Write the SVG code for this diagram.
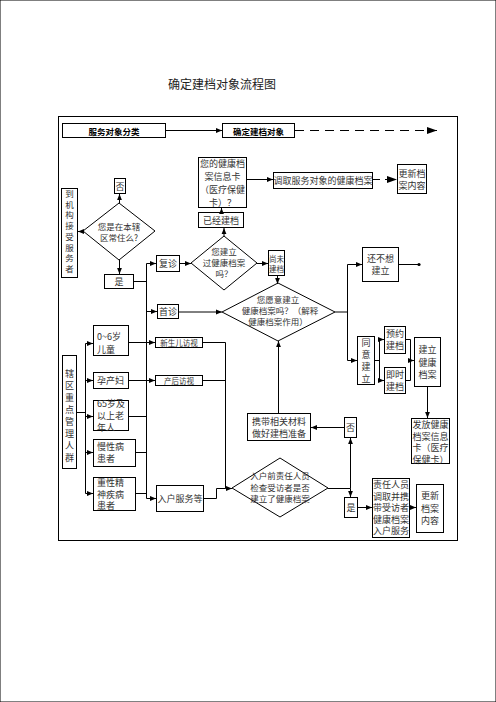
<svg xmlns="http://www.w3.org/2000/svg" width="496" height="702" viewBox="0 0 496 702">
<defs>
<marker id="a" viewBox="0 0 10 10" refX="10" refY="5" markerWidth="6" markerHeight="6" orient="auto" markerUnits="userSpaceOnUse"><path d="M0,1 L10,5 L0,9 z" fill="#000"/></marker>
<marker id="b" viewBox="0 0 10 10" refX="10" refY="5" markerWidth="12" markerHeight="10" orient="auto" markerUnits="userSpaceOnUse"><path d="M0,1.5 L10,5 L0,8.5 z" fill="#000"/></marker>
</defs>
<style>
rect,polygon{fill:#fff;stroke:#000;stroke-width:1}
.frame{fill:none}
text{font-family:"Noto Sans CJK SC","Noto Sans CJK JP",sans-serif;font-size:9px;fill:#333;text-anchor:middle;dominant-baseline:central}
.l{text-anchor:start}
.h{font-weight:bold;fill:#000;font-size:8.5px}
.s{font-size:7.5px}
.m{font-size:8.5px}
.c line,.c polyline{stroke:#000;stroke-width:1;fill:none}
.c .ar{marker-end:url(#a)}
</style>
<rect width="496" height="702" fill="#fff" stroke="none"/>
<text x="222" y="83" style="font-size:12px;fill:#222">确定建档对象流程图</text>
<rect class="frame" x="58.5" y="116.5" width="399" height="424"/>

<g id="hdr1"><rect x="62.5" y="123.5" width="103" height="14"/><text class="h" x="114" y="130.5">服务对象分类</text></g>
<g id="hdr2"><rect x="222.5" y="123.5" width="72" height="14"/><text class="h" x="258.5" y="130.5">确定建档对象</text></g>

<g id="card"><rect x="198.5" y="157.5" width="48" height="50"/>
<text x="222.5" y="163"><tspan x="222.5">您的健康档</tspan><tspan x="222.5" dy="13">案信息卡</tspan><tspan x="222.5" dy="13">（医疗保健</tspan><tspan x="222.5" dy="13">卡）？</tspan></text></g>
<g id="fetch"><rect x="273.5" y="172.5" width="99" height="16"/><text x="323" y="180.5">调取服务对象的健康档案</text></g>
<g id="update1"><rect x="397.5" y="164.5" width="29" height="29"/><text x="412" y="173"><tspan x="412">更新档</tspan><tspan x="412" dy="12">案内容</tspan></text></g>
<g id="built"><rect x="198.5" y="212.5" width="45" height="15"/><text x="221" y="220">已经建档</text></g>
<g id="d1"><polygon points="224,236 257,263 224,290 191,263"/><text class="m" x="224" y="251"><tspan x="224">您建立</tspan><tspan x="224" dy="11">过健康档案</tspan><tspan x="224" dy="11">吗？</tspan></text></g>
<g id="fuzhen"><rect x="156.5" y="255.5" width="23" height="16"/><text x="168" y="263.5">复诊</text></g>
<g id="weijian"><rect x="268.5" y="250.5" width="16" height="25"/><text class="s" x="276.5" y="257.5"><tspan x="276.5">尚未</tspan><tspan x="276.5" dy="10.5">建档</tspan></text></g>
<g id="d2"><polygon points="278,283 335,312 278,341 222,312"/><text class="m" x="278" y="299"><tspan x="278">您愿意建立</tspan><tspan x="280" dy="11">健康档案吗？（解释</tspan><tspan x="278" dy="11">健康档案作用）</tspan></text></g>
<g id="shouzhen"><rect x="157.5" y="304.5" width="21" height="14"/><text x="168" y="311.5">首诊</text></g>
<g id="shi1"><rect x="104.5" y="274.5" width="29" height="14"/><text x="119" y="281.5">是</text></g>
<g id="fou1"><rect x="114.5" y="178.5" width="11" height="15"/><text x="120" y="186">否</text></g>
<g id="d0"><polygon points="119,203 155,231 119,260 83,231"/><text class="m" x="119" y="226"><tspan x="119">您是在本辖</tspan><tspan x="119" dy="11">区常住么?</tspan></text></g>
<g id="visitor"><rect x="61.5" y="188.5" width="16" height="89"/>
<text class="m" x="69.5" y="193"><tspan x="69.5">到</tspan><tspan x="69.5" dy="10.7">机</tspan><tspan x="69.5" dy="10.7">构</tspan><tspan x="69.5" dy="10.7">接</tspan><tspan x="69.5" dy="10.7">受</tspan><tspan x="69.5" dy="10.7">服</tspan><tspan x="69.5" dy="10.7">务</tspan><tspan x="69.5" dy="10.7">者</tspan></text></g>
<g id="notyet"><rect x="362.5" y="247.5" width="36" height="34"/><text x="380.5" y="258"><tspan x="380.5">还不想</tspan><tspan x="380.5" dy="12">建立</tspan></text></g>
<g id="agree"><rect x="357.5" y="336.5" width="17" height="48"/><text x="366" y="342"><tspan x="366">同</tspan><tspan x="366" dy="12">意</tspan><tspan x="366" dy="12">建</tspan><tspan x="366" dy="12">立</tspan></text></g>
<g id="yuyue"><rect x="384.5" y="326.5" width="21" height="27"/><text x="395" y="333"><tspan x="395">预约</tspan><tspan x="395" dy="12">建档</tspan></text></g>
<g id="jishi"><rect x="384.5" y="367.5" width="21" height="26"/><text x="395" y="374"><tspan x="395">即时</tspan><tspan x="395" dy="12">建档</tspan></text></g>
<g id="jianli"><rect x="414.5" y="337.5" width="26" height="49"/><text x="427.5" y="349"><tspan x="427.5">建立</tspan><tspan x="427.5" dy="12.5">健康</tspan><tspan x="427.5" dy="12.5">档案</tspan></text></g>
<g id="fafang"><rect x="411.5" y="418.5" width="38" height="45"/><text x="430.5" y="424"><tspan x="430.5">发放健康</tspan><tspan x="430.5" dy="11.7">档案信息</tspan><tspan x="430.5" dy="11.7">卡（医疗</tspan><tspan x="430.5" dy="11.7">保健卡）</tspan></text></g>
<g id="fou2"><rect x="344.5" y="417.5" width="12" height="20"/><text x="350.5" y="427.5">否</text></g>
<g id="xiedai"><rect x="247.5" y="413.5" width="63" height="27"/><text x="279" y="421"><tspan x="279">携带相关材料</tspan><tspan x="279" dy="11.6">做好建档准备</tspan></text></g>
<g id="d3"><polygon points="280,458 328,488 280,517 232,488"/><text class="m" x="280" y="475"><tspan x="280">入户前责任人员</tspan><tspan x="280" dy="11.5">检查受访者是否</tspan><tspan x="280" dy="11.5">建立了健康档案</tspan></text></g>
<g id="shi2"><rect x="344.5" y="497.5" width="13" height="20"/><text x="351" y="507.5">是</text></g>
<g id="zeren"><rect x="372.5" y="478.5" width="37" height="59"/><text x="391" y="484"><tspan x="391">责任人员</tspan><tspan x="391" dy="11.5">调取并携</tspan><tspan x="391" dy="11.5">带受访者</tspan><tspan x="391" dy="11.5">健康档案</tspan><tspan x="391" dy="11.5">入户服务</tspan></text></g>
<g id="update2"><rect x="416.5" y="484.5" width="27" height="48"/><text x="430" y="495"><tspan x="430">更新</tspan><tspan x="430" dy="12.5">档案</tspan><tspan x="430" dy="12.5">内容</tspan></text></g>
<g id="xiaqu"><rect x="62.5" y="355.5" width="14" height="113"/>
<text x="69.5" y="373"><tspan x="69.5">辖</tspan><tspan x="69.5" dy="12">区</tspan><tspan x="69.5" dy="12">重</tspan><tspan x="69.5" dy="12">点</tspan><tspan x="69.5" dy="12">管</tspan><tspan x="69.5" dy="12">理</tspan><tspan x="69.5" dy="12">人</tspan><tspan x="69.5" dy="12">群</tspan></text></g>
<g id="child"><rect x="93.5" y="325.5" width="35" height="30"/><text class="l" x="97" y="336"><tspan x="97">0~6岁</tspan><tspan x="97" dy="13">儿童</tspan></text></g>
<g id="yunchan"><rect x="93.5" y="372.5" width="35" height="16"/><text class="l" x="97" y="380.5">孕产妇</text></g>
<g id="elder"><rect x="93.5" y="400.5" width="35" height="30"/><text class="l" x="97" y="403"><tspan x="97">65岁及</tspan><tspan x="97" dy="12.3">以上老</tspan><tspan x="97" dy="11.7">年人</tspan></text></g>
<g id="chronic"><rect x="93.5" y="439.5" width="42" height="27"/><text class="l" x="97" y="446"><tspan x="97">慢性病</tspan><tspan x="97" dy="12">患者</tspan></text></g>
<g id="mental"><rect x="93.5" y="477.5" width="42" height="33"/><text class="l" x="97" y="482"><tspan x="97">重性精</tspan><tspan x="97" dy="11.5">神疾病</tspan><tspan x="97" dy="11.5">患者</tspan></text></g>
<g id="xinsheng"><rect x="155.5" y="337.5" width="47" height="10"/><text class="s" x="179" y="342.5">新生儿访视</text></g>
<g id="chanhou"><rect x="155.5" y="375.5" width="47" height="10"/><text class="s" x="179" y="380.5">产后访视</text></g>
<g id="ruhu"><rect x="156.5" y="485.5" width="47" height="26"/><text x="180" y="498.5">入户服务等</text></g>

<g id="connectors" class="c">
<line class="ar" x1="166" y1="130.5" x2="222" y2="130.5"/>
<line x1="295" y1="130.5" x2="437" y2="130.5" stroke-dasharray="9 6" style="marker-end:url(#b)"/>
<line class="ar" x1="247" y1="179.5" x2="273" y2="179.5"/>
<line x1="373" y1="179.5" x2="397" y2="179.5" stroke-dasharray="7 5" style="marker-end:url(#b)"/>
<line class="ar" x1="221.5" y1="212" x2="221.5" y2="208"/>
<line class="ar" x1="224" y1="236" x2="224" y2="228"/>
<line class="ar" x1="180" y1="263.5" x2="191" y2="263.5"/>
<line class="ar" x1="257" y1="263.5" x2="268" y2="263.5"/>
<line class="ar" x1="277.5" y1="276" x2="277.5" y2="284"/>
<polyline points="133.5,281.5 146.5,281.5"/>
<line x1="146.5" y1="263.5" x2="146.5" y2="498.5"/>
<line class="ar" x1="146.5" y1="263.5" x2="156" y2="263.5"/>
<line class="ar" x1="146.5" y1="311.5" x2="157" y2="311.5"/>
<line class="ar" x1="179" y1="312" x2="222" y2="312"/>
<line class="ar" x1="119.5" y1="203" x2="119.5" y2="194"/>
<line class="ar" x1="119.5" y1="260" x2="119.5" y2="274"/>
<line class="ar" x1="83" y1="231.5" x2="78" y2="231.5"/>
<line x1="335" y1="312" x2="347.5" y2="312"/>
<line x1="347.5" y1="264.5" x2="347.5" y2="360.5"/>
<line class="ar" x1="347.5" y1="264.5" x2="362" y2="264.5"/>
<line class="ar" x1="347.5" y1="360.5" x2="357" y2="360.5"/>
<line x1="399" y1="264.5" x2="419" y2="264.5"/>
<circle cx="419" cy="264.5" r="1.6" fill="#000"/>
<line x1="375" y1="360.5" x2="379.5" y2="360.5"/>
<line x1="379.5" y1="339.5" x2="379.5" y2="380.5"/>
<line class="ar" x1="379.5" y1="339.5" x2="384" y2="339.5"/>
<line class="ar" x1="379.5" y1="380.5" x2="384" y2="380.5"/>
<polyline points="406,339.5 410.5,339.5 410.5,380.5 406,380.5"/>
<line class="ar" x1="410.5" y1="360.5" x2="414" y2="360.5"/>
<line class="ar" x1="427.5" y1="387" x2="427.5" y2="418"/>
<line class="ar" x1="344" y1="427.5" x2="311" y2="427.5"/>
<line class="ar" x1="278.5" y1="413" x2="278.5" y2="341"/>
<line class="ar" x1="350.5" y1="488.5" x2="350.5" y2="438"/>
<line class="ar" x1="350.5" y1="488.5" x2="350.5" y2="497"/>
<line x1="328" y1="488.5" x2="350.5" y2="488.5"/>
<line class="ar" x1="358" y1="507.5" x2="372" y2="507.5"/>
<line class="ar" x1="410" y1="507.5" x2="416" y2="507.5"/>
<line x1="77" y1="412.5" x2="85.5" y2="412.5"/>
<line x1="85.5" y1="343.5" x2="85.5" y2="493.5"/>
<line class="ar" x1="85.5" y1="343.5" x2="93" y2="343.5"/>
<line class="ar" x1="85.5" y1="380.5" x2="93" y2="380.5"/>
<line class="ar" x1="85.5" y1="416.5" x2="93" y2="416.5"/>
<line class="ar" x1="85.5" y1="452.5" x2="93" y2="452.5"/>
<line class="ar" x1="85.5" y1="493.5" x2="93" y2="493.5"/>
<line x1="129" y1="342.5" x2="146.5" y2="342.5"/>
<line x1="129" y1="380.5" x2="146.5" y2="380.5"/>
<line x1="129" y1="416.5" x2="146.5" y2="416.5"/>
<line x1="136" y1="452.5" x2="146.5" y2="452.5"/>
<line x1="136" y1="493.5" x2="146.5" y2="493.5"/>
<line class="ar" x1="146.5" y1="342.5" x2="155" y2="342.5"/>
<line class="ar" x1="146.5" y1="380.5" x2="155" y2="380.5"/>
<line class="ar" x1="146.5" y1="498.5" x2="156" y2="498.5"/>
<line x1="203" y1="342.5" x2="225.5" y2="342.5"/>
<line x1="203" y1="380.5" x2="225.5" y2="380.5"/>
<line x1="225.5" y1="342.5" x2="225.5" y2="488.5"/>
<polyline points="204,498.5 216.5,498.5 216.5,488.5 225.5,488.5"/>
<line class="ar" x1="225.5" y1="488.5" x2="232" y2="488.5"/>
</g>
</svg>
